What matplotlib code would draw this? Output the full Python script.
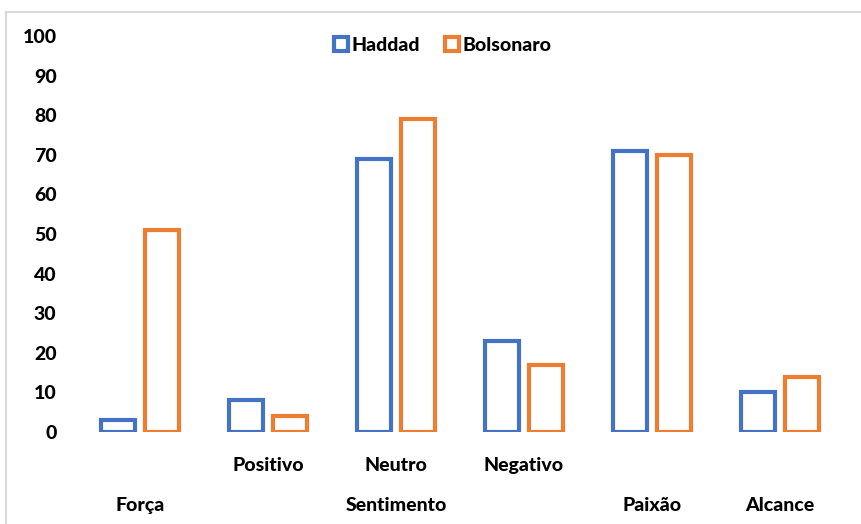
import matplotlib
matplotlib.use("Agg")
import matplotlib.pyplot as plt
import matplotlib.transforms as mtransforms
from matplotlib.lines import Line2D

# Data
categories = ["Força", "Positivo", "Neutro", "Negativo", "Paixão", "Alcance"]
haddad = [3, 8, 69, 23, 71, 10]
bolsonaro = [51, 4, 79, 17, 70, 14]
series_names = ["Haddad", "Bolsonaro"]
y_ticks = [0, 10, 20, 30, 40, 50, 60, 70, 80, 90, 100]
# second-level label grouping: Sentimento spans Positivo / Neutro / Negativo
group_label = "Sentimento"
group_members = ["Positivo", "Neutro", "Negativo"]

BLUE = "#4472C4"
ORANGE = "#ED7D31"

plt.rcParams["font.family"] = ["Lato", "DejaVu Sans"]
WEIGHT = "black"
FS = 14

W, H = 862, 524
fig = plt.figure(figsize=(W / 100, H / 100), dpi=100)
fig.patch.set_facecolor("white")

ax = fig.add_axes([76 / W, (H - 432) / H, (844 - 76) / W, (432 - 36) / H])

x = list(range(len(categories)))
bw = 0.27
off = 0.172
lw = 3.0
ax.bar([i - off for i in x], haddad, width=bw, facecolor="white",
       edgecolor=BLUE, linewidth=lw)
ax.bar([i + off for i in x], bolsonaro, width=bw, facecolor="white",
       edgecolor=ORANGE, linewidth=lw)

ax.set_xlim(-0.5, len(categories) - 0.5)
ax.set_ylim(0, 100)
ax.set_yticks(y_ticks)
ax.set_yticklabels([str(v) for v in y_ticks], fontsize=FS, fontweight=WEIGHT)
ax.tick_params(axis="y", length=0, pad=14)
ax.set_xticks([])
for s in ax.spines.values():
    s.set_visible(False)

# Two-row category axis
trans = mtransforms.blended_transform_factory(ax.transData, ax.transAxes)
row1_y = (432 - 464) / 396
row2_y = (432 - 504) / 396
for i, c in enumerate(categories):
    yrow = row1_y if c in group_members else row2_y
    ax.text(i, yrow, c, transform=trans, ha="center", va="center_baseline",
            fontsize=FS, fontweight=WEIGHT)
mid = sum(categories.index(m) for m in group_members) / len(group_members)
ax.text(mid, row2_y, group_label, transform=trans, ha="center",
        va="center_baseline", fontsize=FS, fontweight=WEIGHT)

# Legend with outlined square keys
handles = [Line2D([], [], marker="s", linestyle="none", markersize=10,
                  markerfacecolor="white", markeredgecolor=col, markeredgewidth=3)
           for col in (BLUE, ORANGE)]
ax.legend(handles, series_names, loc="center", bbox_to_anchor=(0.477, 0.977),
          ncol=2, frameon=False, handlelength=0.8, handletextpad=0.15,
          columnspacing=1.2, prop={"size": FS, "weight": WEIGHT})

# Chart frame (top and left edges)
fig.add_artist(Line2D([6 / W, 1], [1 - 11.5 / H, 1 - 11.5 / H], color="#D9D9D9",
                      linewidth=1.5, transform=fig.transFigure))
fig.add_artist(Line2D([6 / W, 6 / W], [0, 1 - 11.5 / H], color="#D9D9D9",
                      linewidth=1.5, transform=fig.transFigure))

fig.savefig("out.png", dpi=100, facecolor="white")
